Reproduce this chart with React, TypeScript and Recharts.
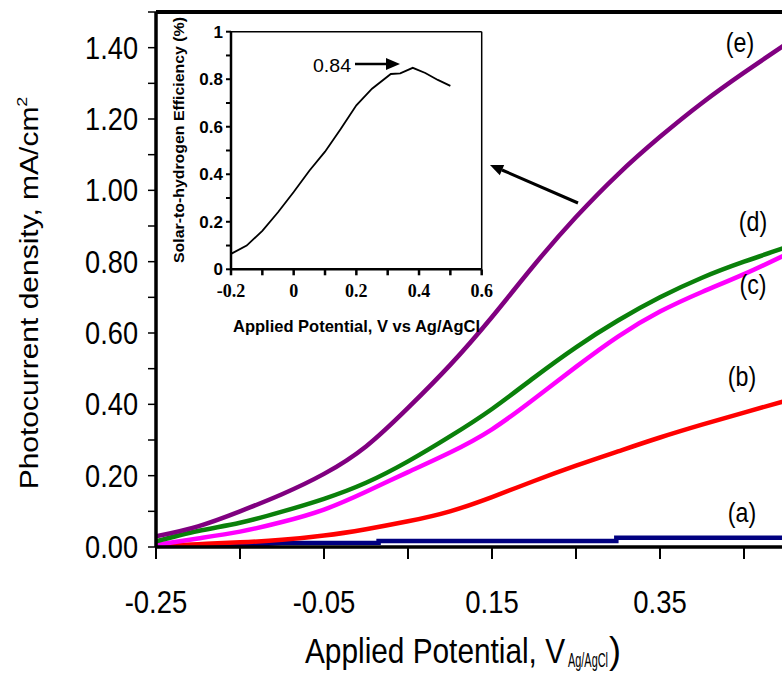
import React from "react";
import { LineChart, Line, XAxis, YAxis, ReferenceLine } from "recharts";

// main panel: photocurrent vs applied potential
const potential = [-0.25, -0.2, -0.15, -0.1, -0.05, 0, 0.05, 0.1, 0.15, 0.2, 0.25, 0.3, 0.35, 0.4, 0.45, 0.5];
const currentB = [0.003, 0.008, 0.013, 0.02, 0.032, 0.05, 0.072, 0.1, 0.14, 0.185, 0.228, 0.268, 0.307, 0.343, 0.377, 0.41];
const currentC = [0.006, 0.024, 0.043, 0.07, 0.105, 0.155, 0.21, 0.265, 0.33, 0.415, 0.505, 0.59, 0.66, 0.715, 0.765, 0.82];
const currentD = [0.016, 0.045, 0.068, 0.099, 0.135, 0.18, 0.24, 0.31, 0.387, 0.475, 0.56, 0.635, 0.7, 0.755, 0.8, 0.84];
const currentE = [0.03, 0.058, 0.1, 0.148, 0.205, 0.282, 0.39, 0.51, 0.645, 0.79, 0.925, 1.045, 1.15, 1.245, 1.33, 1.41];

// curve (a) is a flat stepped trace
const potentialA = [-0.25, -0.15, -0.1, 0.015, 0.015, 0.298, 0.298, 0.5];
const currentA = [0.003, 0.005, 0.011, 0.012, 0.017, 0.017, 0.026, 0.026];

const xTicks = [-0.25, -0.15, -0.05, 0.05, 0.15, 0.25, 0.35, 0.45];
const xTickLabels = [-0.25, -0.05, 0.15, 0.35];
const yTicks = [0, 0.1, 0.2, 0.3, 0.4, 0.5, 0.6, 0.7, 0.8, 0.9, 1.0, 1.1, 1.2, 1.3, 1.4, 1.5];
const yTickLabels = [0, 0.2, 0.4, 0.6, 0.8, 1.0, 1.2, 1.4];

// inset: solar-to-hydrogen efficiency
const stePotential = [-0.2, -0.15, -0.1, -0.05, 0, 0.05, 0.1, 0.15, 0.2, 0.25, 0.31, 0.34, 0.38, 0.42, 0.46, 0.5];
const steEfficiency = [0.065, 0.1, 0.162, 0.24, 0.325, 0.415, 0.495, 0.59, 0.69, 0.76, 0.822, 0.825, 0.848, 0.826, 0.797, 0.772];
const insetXTicks = [-0.2, -0.1, 0, 0.1, 0.2, 0.3, 0.4, 0.5, 0.6];
const insetXLabels = [-0.2, 0, 0.2, 0.4, 0.6];
const insetYTicks = [0, 0.1, 0.2, 0.3, 0.4, 0.5, 0.6, 0.7, 0.8, 0.9, 1];
const insetYLabels = [0, 0.2, 0.4, 0.6, 0.8, 1];

const SANS = "'Liberation Sans', Arial, sans-serif";
const SERIF = "'Liberation Serif', 'Times New Roman', serif";

const mainData = potential.map((p, i) => ({
  p,
  b: currentB[i],
  c: currentC[i],
  d: currentD[i],
  e: currentE[i],
}));
const dataA = potentialA.map((p, i) => ({ p, a: currentA[i] }));
const steData = stePotential.map((p, i) => ({ p, eff: steEfficiency[i] }));

const has = (list: number[], v: number) => list.some((t) => Math.abs(t - v) < 1e-6);

function MainXTick(props: any) {
  const { x, y, payload } = props;
  if (!has(xTickLabels, payload.value)) return <g />;
  return (
    <text
      transform={`translate(${x},${y}) scale(0.86,1)`}
      textAnchor="middle"
      dy={23}
      fontSize={32}
      fontFamily={SANS}
      fill="#000"
    >
      {payload.value.toFixed(2)}
    </text>
  );
}

function MainYTick(props: any) {
  const { x, y, payload } = props;
  if (!has(yTickLabels, payload.value)) return <g />;
  return (
    <text
      transform={`translate(${x},${y}) scale(0.85,1)`}
      textAnchor="end"
      dy={11}
      fontSize={32}
      fontFamily={SANS}
      fill="#000"
    >
      {payload.value.toFixed(2)}
    </text>
  );
}

function InsetXTick(props: any) {
  const { x, y, payload } = props;
  if (!has(insetXLabels, payload.value)) return <g />;
  const v = payload.value;
  return (
    <text x={x} y={y} dy={14} textAnchor="middle" fontSize={18} fontWeight="bold" fontFamily={SERIF} fill="#000">
      {Math.abs(v) < 1e-6 ? "0" : String(Math.round(v * 10) / 10)}
    </text>
  );
}

function InsetYTick(props: any) {
  const { x, y, payload } = props;
  if (!has(insetYLabels, payload.value)) return <g />;
  const v = payload.value;
  return (
    <text x={x} y={y} dy={6} textAnchor="end" fontSize={17} fontWeight="bold" fontFamily={SANS} fill="#000">
      {String(Math.round(v * 10) / 10)}
    </text>
  );
}

function Annotations() {
  const curveLabel = (t: string, x: number, y: number) => (
    <text x={0} y={0} textAnchor="middle" fontSize={27} fontFamily={SANS} transform={`translate(${x},${y}) scale(0.86,1)`}>
      {t}
    </text>
  );
  return (
    <svg width={782} height={681} style={{ position: "absolute", left: 0, top: 0, pointerEvents: "none" }}>
      {curveLabel("(e)", 740, 52)}
      {curveLabel("(d)", 753, 231)}
      {curveLabel("(c)", 753, 294)}
      {curveLabel("(b)", 742, 386)}
      {curveLabel("(a)", 742, 522)}

      {/* arrow from curve (e) to the inset */}
      <line x1={578} y1={203} x2={502} y2={170} stroke="#000" strokeWidth={3} />
      <polygon points="490,165 504.2,165 499.8,175.2" fill="#000" />

      {/* peak marker inside the inset */}
      <text x={351} y={72} textAnchor="end" fontSize={19} fontFamily={SANS} textLength={38} lengthAdjust="spacingAndGlyphs">
        0.84
      </text>
      <line x1={355} y1={64} x2={388} y2={64} stroke="#000" strokeWidth={2.5} />
      <polygon points="386,58 400,64 386,70" fill="#000" />

      {/* inset axis titles */}
      <text
        transform="translate(184,140) rotate(-90)"
        textAnchor="middle"
        fontSize={15}
        fontWeight="bold"
        fontFamily={SANS}
        textLength={246}
        lengthAdjust="spacingAndGlyphs"
      >
        Solar-to-hydrogen Efficiency (%)
      </text>
      <text
        x={233}
        y={332}
        fontSize={17}
        fontWeight="bold"
        fontFamily={SANS}
        textLength={247}
        lengthAdjust="spacingAndGlyphs"
      >
        Applied Potential, V vs Ag/AgCl
      </text>

      {/* main axis titles */}
      <text transform="translate(38,293) scale(0.85,1) rotate(-90)" textAnchor="middle" fontSize={30} fontFamily={SANS}>
        Photocurrent density, mA/cm
        <tspan dy={-13} fontSize={18}>2</tspan>
      </text>
      <text transform="translate(305,663) scale(0.828,1)" fontSize={36} fontFamily={SANS}>
        Applied Potential, V
      </text>
      <text transform="translate(568,667) scale(0.52,1)" fontSize={21} fontFamily={SANS}>
        Ag/AgCl
      </text>
      <text transform="translate(609,663)" fontSize={36} fontFamily={SANS}>
        )
      </text>
    </svg>
  );
}

export default function App() {
  return (
    <div style={{ position: "absolute", left: 0, top: 0, width: 782, height: 681, overflow: "hidden", background: "#fff" }}>
      <LineChart width={800} height={681} data={mainData} margin={{ top: 12, right: 14, bottom: 0, left: 0 }}>
        <XAxis
          dataKey="p"
          type="number"
          domain={[-0.25, 0.5]}
          ticks={xTicks}
          interval={0}
          allowDataOverflow
          height={134}
          tickSize={12}
          tickMargin={31}
          tick={<MainXTick />}
          axisLine={{ stroke: "#000", strokeWidth: 3.5 }}
          tickLine={{ stroke: "#000", strokeWidth: 2 }}
        />
        <YAxis
          type="number"
          domain={[0, 1.5]}
          ticks={yTicks}
          interval={0}
          allowDataOverflow
          width={156}
          tickSize={8}
          tickMargin={10}
          tick={<MainYTick />}
          axisLine={{ stroke: "#000", strokeWidth: 3.5 }}
          tickLine={{ stroke: "#000", strokeWidth: 1.5 }}
        />
        <ReferenceLine y={1.5} stroke="#000" strokeWidth={4} />
        <Line data={dataA} dataKey="a" stroke="#000080" strokeWidth={4.5} dot={false} isAnimationActive={false} type="linear" />
        <Line dataKey="b" stroke="#ff0000" strokeWidth={4.5} dot={false} isAnimationActive={false} type="natural" />
        <Line dataKey="c" stroke="#ff00ff" strokeWidth={4.5} dot={false} isAnimationActive={false} type="natural" />
        <Line dataKey="d" stroke="#0a800a" strokeWidth={4.5} dot={false} isAnimationActive={false} type="natural" />
        <Line dataKey="e" stroke="#800080" strokeWidth={4.5} dot={false} isAnimationActive={false} type="natural" />
      </LineChart>

      <div style={{ position: "absolute", left: 130, top: 0 }}>
        <LineChart width={370} height={340} data={steData} margin={{ top: 31.7, right: 18.3, bottom: 0, left: 0 }}>
          <XAxis
            dataKey="p"
            type="number"
            domain={[-0.2, 0.6]}
            ticks={insetXTicks}
            interval={0}
            height={70.7}
            tickSize={6}
            tickMargin={8}
            tick={<InsetXTick />}
            axisLine={{ stroke: "#000", strokeWidth: 2.5 }}
            tickLine={{ stroke: "#000", strokeWidth: 2.5 }}
          />
          <YAxis
            type="number"
            domain={[0, 1]}
            ticks={insetYTicks}
            interval={0}
            width={101}
            tickSize={5}
            tickMargin={3}
            tick={<InsetYTick />}
            axisLine={{ stroke: "#000", strokeWidth: 2.5 }}
            tickLine={{ stroke: "#000", strokeWidth: 2 }}
          />
          <ReferenceLine y={1} stroke="#000" strokeWidth={1.5} />
          <ReferenceLine x={0.6} stroke="#000" strokeWidth={1.5} />
          <Line dataKey="eff" stroke="#000" strokeWidth={1.8} dot={false} isAnimationActive={false} type="linear" />
        </LineChart>
      </div>

      <Annotations />
    </div>
  );
}
